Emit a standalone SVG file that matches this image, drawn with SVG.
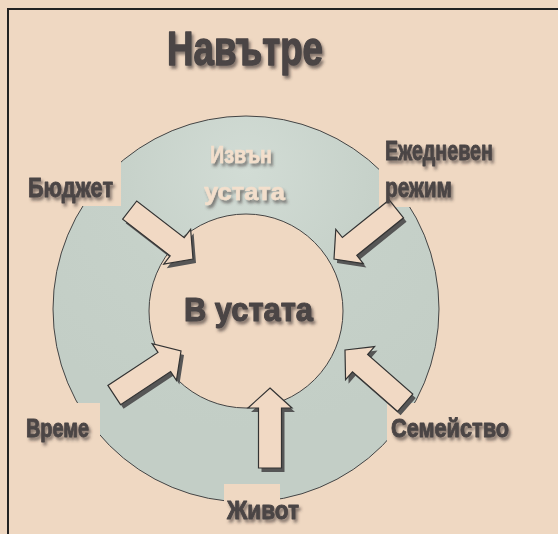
<svg xmlns="http://www.w3.org/2000/svg" xmlns:xlink="http://www.w3.org/1999/xlink" width="558" height="534" viewBox="0 0 558 534">
<defs>
<style>
.t{font-family:"Liberation Sans Narrow","Liberation Sans",Arial,sans-serif;font-weight:bold;fill:#4b4545;stroke:#4b4545;stroke-width:0.9;stroke-linejoin:round;filter:url(#sh)}
.tl{fill:#f3dfcc;stroke:#f3dfcc;stroke-width:0.5}
.box{fill:#efd8c2}
.arrow{fill:#f1d9c4;stroke:#333;stroke-width:1.2;stroke-linejoin:miter}
.ashadow{fill:#565656}
</style>
<filter id="sh" x="-10%" y="-20%" width="130%" height="160%">
<feDropShadow dx="2" dy="3" stdDeviation="1.4" flood-color="#3a3030" flood-opacity="0.6"/>
</filter>
<radialGradient id="rg" cx="246" cy="170" r="260" gradientUnits="userSpaceOnUse">
<stop offset="0" stop-color="#d2dcd5"/>
<stop offset="0.5" stop-color="#c6d1c9"/>
<stop offset="1" stop-color="#c3cec6"/>
</radialGradient>
<path id="arr" d="M0,0 L22,20 L11.5,20 L11.5,80 L-11.5,80 L-11.5,20 L-22,20 Z"/>
</defs>
<rect x="0" y="0" width="558" height="534" fill="#efd8c2"/>
<rect x="8" y="9" width="580" height="560" fill="none" stroke="#222" stroke-width="2"/>

<g id="ring">
<circle cx="246" cy="309" r="193" fill="url(#rg)" stroke="#444" stroke-width="1"/>
</g>
<g id="inner">
<circle cx="246" cy="311" r="97" fill="#efd8c2" stroke="#444" stroke-width="1"/>
</g>

<g id="label-boxes">
<rect class="box" x="18" y="160" width="103" height="46"/>
<rect class="box" x="379" y="128" width="130" height="79"/>
<rect class="box" x="18" y="403" width="82" height="40"/>
<rect class="box" x="387" y="403" width="130" height="40"/>
<rect class="box" x="224" y="484" width="56" height="52"/>
</g>

<g id="connectors">
<g id="arrow-budget">
<use xlink:href="#arr" class="ashadow" transform="translate(196,263) rotate(127.7)"/>
<use xlink:href="#arr" class="arrow" transform="translate(193,259) rotate(127.7)"/>
</g>
<g id="arrow-rezhim">
<use xlink:href="#arr" class="ashadow" transform="translate(337,263) rotate(-128.8)"/>
<use xlink:href="#arr" class="arrow" transform="translate(334,259) rotate(-128.8)"/>
</g>
<g id="arrow-vreme">
<use xlink:href="#arr" class="ashadow" transform="translate(184,355) rotate(56.6)"/>
<use xlink:href="#arr" class="arrow" transform="translate(181,351) rotate(56.6)"/>
</g>
<g id="arrow-semeystvo">
<use xlink:href="#arr" class="ashadow" transform="translate(348,354) rotate(-48.8)"/>
<use xlink:href="#arr" class="arrow" transform="translate(345,350) rotate(-48.8)"/>
</g>
<g id="arrow-zhivot">
<use xlink:href="#arr" class="ashadow" transform="translate(273,392)"/>
<use xlink:href="#arr" class="arrow" transform="translate(270,388)"/>
</g>
</g>

<g id="title"><text class="t" x="167" y="65" font-size="48" textLength="156" lengthAdjust="spacingAndGlyphs" style="stroke-width:1.4">Навътре</text></g>
<g id="node-outside">
<text class="t tl" x="210" y="163" font-size="24" textLength="62" lengthAdjust="spacingAndGlyphs">Извън</text>
<text class="t tl" x="204" y="200" font-size="24" textLength="81" lengthAdjust="spacingAndGlyphs">устата</text>
</g>
<g id="node-inside"><text class="t" x="184" y="321" font-size="33" textLength="129" lengthAdjust="spacingAndGlyphs" style="stroke-width:1.1">В устата</text></g>
<g id="node-budget"><text class="t" x="28" y="197" font-size="28" textLength="85" lengthAdjust="spacingAndGlyphs">Бюджет</text></g>
<g id="node-rezhim">
<text class="t" x="385" y="160" font-size="28" textLength="108" lengthAdjust="spacingAndGlyphs">Ежедневен</text>
<text class="t" x="385" y="197" font-size="28" textLength="67" lengthAdjust="spacingAndGlyphs">режим</text>
</g>
<g id="node-vreme"><text class="t" x="26" y="437" font-size="26" textLength="63" lengthAdjust="spacingAndGlyphs">Време</text></g>
<g id="node-semeystvo"><text class="t" x="391" y="437" font-size="26" textLength="118" lengthAdjust="spacingAndGlyphs">Семейство</text></g>
<g id="node-zhivot"><text class="t" x="227" y="519" font-size="26" textLength="72" lengthAdjust="spacingAndGlyphs">Живот</text></g>
</svg>
